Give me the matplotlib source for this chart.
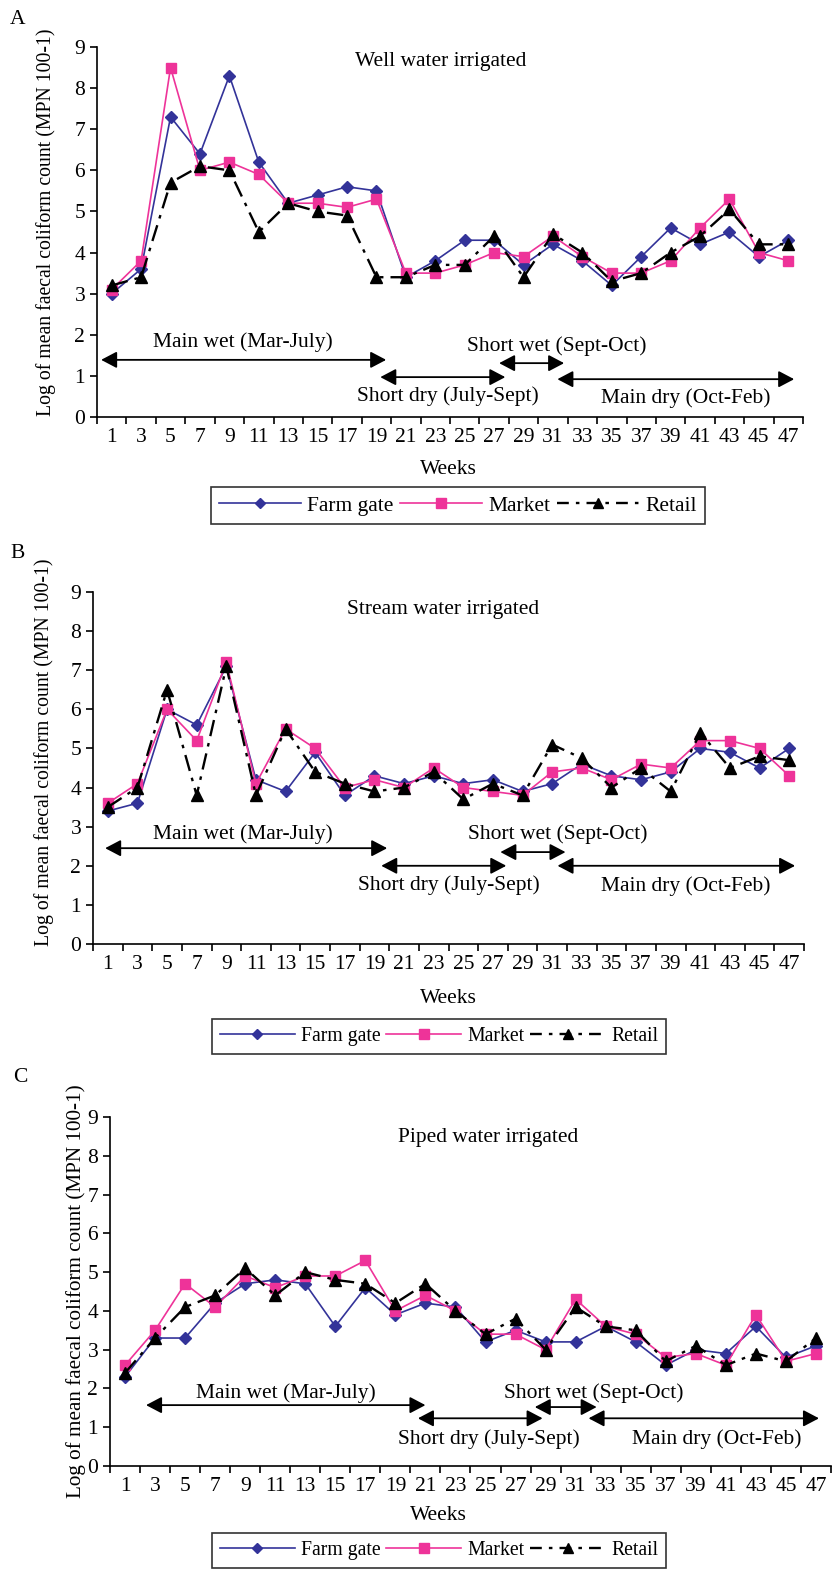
import numpy as np
import matplotlib.pyplot as plt
from matplotlib.lines import Line2D

plt.rcParams['font.family'] = ['Liberation Serif', 'DejaVu Serif']
plt.rcParams['font.size'] = 15.5

# Weeks of sampling (category axis)
weeks = [str(w) for w in range(1, 48, 2)]

# A - well water irrigated
well_farm = [3.0, 3.6, 7.3, 6.4, 8.3, 6.2, 5.2, 5.4, 5.6, 5.5, 3.4, 3.8,
             4.3, 4.3, 3.7, 4.2, 3.8, 3.2, 3.9, 4.6, 4.2, 4.5, 3.9, 4.3]
well_market = [3.1, 3.8, 8.5, 6.0, 6.2, 5.9, 5.2, 5.2, 5.1, 5.3, 3.5, 3.5,
               3.7, 4.0, 3.9, 4.4, 3.9, 3.5, 3.5, 3.8, 4.6, 5.3, 4.0, 3.8]
well_retail = [3.2, 3.4, 5.7, 6.1, 6.0, 4.5, 5.2, 5.0, 4.9, 3.4, 3.4, 3.7,
               3.7, 4.4, 3.4, 4.45, 4.0, 3.3, 3.5, 4.0, 4.4, 5.05, 4.2, 4.2]

# B - stream water irrigated
stream_farm = [3.4, 3.6, 6.0, 5.6, 7.1, 4.2, 3.9, 4.9, 3.8, 4.3, 4.1, 4.3,
               4.1, 4.2, 3.9, 4.1, 4.6, 4.3, 4.2, 4.4, 5.0, 4.9, 4.5, 5.0]
stream_market = [3.6, 4.1, 6.0, 5.2, 7.2, 4.1, 5.5, 5.0, 4.0, 4.2, 4.0, 4.5,
                 4.0, 3.9, 3.8, 4.4, 4.5, 4.2, 4.6, 4.5, 5.2, 5.2, 5.0, 4.3]
stream_retail = [3.5, 4.0, 6.5, 3.8, 7.1, 3.8, 5.5, 4.4, 4.1, 3.9, 4.0, 4.4,
                 3.7, 4.1, 3.8, 5.1, 4.75, 4.0, 4.5, 3.9, 5.4, 4.5, 4.8, 4.7]

# C - piped water irrigated
piped_farm = [2.3, 3.3, 3.3, 4.2, 4.7, 4.8, 4.7, 3.6, 4.6, 3.9, 4.2, 4.1,
              3.2, 3.5, 3.2, 3.2, 3.6, 3.2, 2.6, 3.0, 2.9, 3.6, 2.8, 3.1]
piped_market = [2.6, 3.5, 4.7, 4.1, 4.9, 4.6, 4.9, 4.9, 5.3, 4.0, 4.4, 4.0,
                3.4, 3.4, 3.0, 4.3, 3.6, 3.4, 2.8, 2.9, 2.6, 3.9, 2.7, 2.9]
piped_retail = [2.4, 3.3, 4.1, 4.4, 5.1, 4.4, 5.0, 4.8, 4.7, 4.2, 4.7, 4.0,
                3.4, 3.8, 3.0, 4.1, 3.6, 3.5, 2.7, 3.1, 2.6, 2.9, 2.7, 3.3]

series_names = ['Farm gate', 'Market', 'Retail']
blue = '#333399'
pink = '#EE3399'
retail_dash = (0, (7, 3, 1.5, 3))

fig = plt.figure(figsize=(8.32, 15.72), dpi=100)


def draw_panel(rect, farm, market, retail, title, title_pos, seasons, ylab, letter, letter_pos,
               legend_pos, legend_fs, weeks_xy):
    ax = fig.add_axes(rect)
    x = np.arange(len(weeks))
    ax.plot(x, farm, color=blue, lw=1.2, marker='D', ms=6.5, label=series_names[0])
    ax.plot(x, market, color=pink, lw=1.2, marker='s', ms=7.5, label=series_names[1])
    ax.plot(x, retail, color='black', lw=1.7, ls=retail_dash, marker='^', ms=8.5, label=series_names[2])

    ax.set_xlim(-0.5, len(weeks) - 0.5)
    ax.set_ylim(0, 9)
    ax.set_yticks(range(10))
    ax.set_xticks(np.arange(-0.5, len(weeks)), labels=[])
    ax.set_xticks(x, labels=weeks, minor=True)
    ax.tick_params(axis='x', which='minor', length=0, pad=8)
    ax.tick_params(axis='both', which='major', direction='out', length=5, width=1.2)
    for s in ['top', 'right']:
        ax.spines[s].set_visible(False)
    for s in ['left', 'bottom']:
        ax.spines[s].set_linewidth(1.2)

    ax.set_ylabel('Log of mean faecal coliform count (MPN 100-1)', fontsize=ylab[2])
    ax.yaxis.set_label_coords(ylab[0], ylab[1])

    ax.text(title_pos[0], title_pos[1], title, ha='center', va='center')

    # season arrows
    for name, x0, x1, ya, xt, yt in seasons:
        ax.annotate('', xy=(x0, ya), xytext=(x1, ya),
                    arrowprops=dict(arrowstyle='<|-|>,head_length=0.95,head_width=0.5',
                                    mutation_scale=10, color='black', lw=1.3,
                                    shrinkA=0, shrinkB=0))
        ax.text(xt, yt, name, ha='center', va='center')

    fig.text(letter_pos[0] / 832, 1 - letter_pos[1] / 1572, letter, ha='center', va='center')
    fig.text(weeks_xy[0] / 832, 1 - weeks_xy[1] / 1572, 'Weeks', ha='center', va='center')

    handles = [Line2D([], [], color=blue, lw=1.2, marker='D', ms=5.5),
               Line2D([], [], color=pink, lw=1.2, marker='s', ms=6.5),
               Line2D([], [], color='black', lw=1.7, ls=(0, (5, 3, 1.5, 3)), marker='^', ms=7)]
    leg = fig.legend(handles, series_names, loc='upper center', ncol=3,
                     bbox_to_anchor=(legend_pos[0] / 832, 1 - legend_pos[1] / 1572),
                     frameon=True, fancybox=False, edgecolor='black', fontsize=legend_fs,
                     handlelength=3.8, columnspacing=0.3, handletextpad=0.3,
                     borderpad=0.4, borderaxespad=0)
    leg.get_frame().set_linewidth(1.2)
    return ax


draw_panel([97 / 832, 1 - 417 / 1572, 706 / 832, 370 / 1572],
           well_farm, well_market, well_retail,
           'Well water irrigated', (11.2, 8.64),
           [('Main wet (Mar-July)', -0.36, 9.33, 1.39, 4.47, 1.82),
            ('Short dry (July-Sept)', 9.13, 13.38, 0.97, 11.44, 0.5),
            ('Short wet (Sept-Oct)', 13.17, 15.38, 1.31, 15.14, 1.72),
            ('Main dry (Oct-Feb)', 15.15, 23.2, 0.92, 19.53, 0.46)],
           (-0.058, 0.527, 14.2), 'A', (18, 20), (458, 487), 15.5, (448, 470))

draw_panel([93 / 832, 1 - 944 / 1572, 711 / 832, 352 / 1572],
           stream_farm, stream_market, stream_retail,
           'Stream water irrigated', (11.3, 8.54),
           [('Main wet (Mar-July)', -0.09, 9.43, 2.45, 4.57, 2.8),
            ('Short dry (July-Sept)', 9.23, 13.45, 2.0, 11.5, 1.5),
            ('Short wet (Sept-Oct)', 13.25, 15.45, 2.35, 15.2, 2.8),
            ('Main dry (Oct-Feb)', 15.18, 23.2, 2.0, 19.5, 1.48)],
           (-0.055, 0.545, 14.2), 'B', (18, 553), (439, 1019), 14.2, (448, 998))

draw_panel([110 / 832, 1 - 1466 / 1572, 721 / 832, 349 / 1572],
           piped_farm, piped_market, piped_retail,
           'Piped water irrigated', (12.1, 8.48),
           [('Main wet (Mar-July)', 0.7, 10.0, 1.57, 5.35, 1.87),
            ('Short dry (July-Sept)', 9.75, 13.9, 1.23, 12.1, 0.7),
            ('Short wet (Sept-Oct)', 13.64, 15.7, 1.52, 15.6, 1.87),
            ('Main dry (Oct-Feb)', 15.43, 23.1, 1.23, 19.7, 0.7)],
           (-0.033, 0.5, 15.2), 'C', (20, 1078), (439, 1533), 14.2, (438, 1515))

fig.savefig('out.png', dpi=100)
